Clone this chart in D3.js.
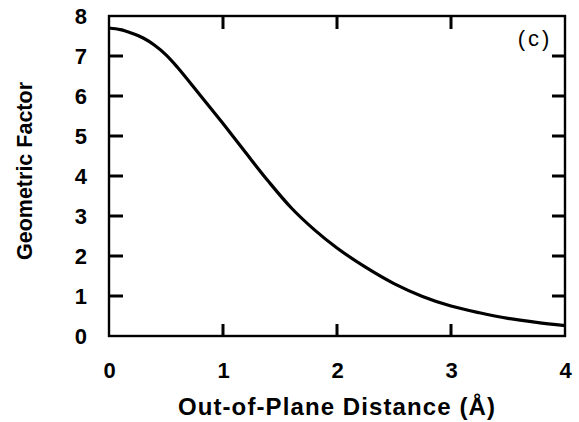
<!DOCTYPE html>
<html>
<head>
<meta charset="utf-8">
<script src="https://cdn.jsdelivr.net/npm/d3@7"></script>
<style>
  html, body { margin: 0; padding: 0; background: #fff; }
  svg { display: block; }
</style>
</head>
<body>
<svg id="chart" width="579" height="422"></svg>
<script>
// ---- data ----
const distance = [0, 0.1, 0.2, 0.3, 0.4, 0.5, 0.6, 0.8, 1.0, 1.2, 1.4, 1.6, 1.8, 2.0, 2.25, 2.5, 2.75, 3.0, 3.25, 3.5, 3.75, 4.0];
const geomFactor = [7.70, 7.66, 7.57, 7.45, 7.27, 7.03, 6.72, 6.02, 5.31, 4.58, 3.86, 3.20, 2.66, 2.20, 1.72, 1.31, 0.99, 0.75, 0.58, 0.44, 0.34, 0.26];
const xTicks = [0, 1, 2, 3, 4];
const yTicks = [0, 1, 2, 3, 4, 5, 6, 7, 8];
const xLabel = "Out-of-Plane Distance (Å)";
const yLabel = "Geometric Factor";
const panelLabel = "(c)";

(function () {
const svg = d3.select("#chart");
const pL = 109, pR = 565, pT = 16, pB = 336;
const x = d3.scaleLinear().domain([0, 4]).range([pL, pR]);
const y = d3.scaleLinear().domain([0, 8]).range([pB, pT]);
const font = "'Liberation Sans', Arial, Helvetica, sans-serif";

// frame
svg.append("rect")
  .attr("x", pL).attr("y", pT).attr("width", pR - pL).attr("height", pB - pT)
  .attr("fill", "none").attr("stroke", "#000").attr("stroke-width", 2.4);

function styleAxis(g) {
  g.select(".domain").remove();
  g.selectAll(".tick line").remove();
  g.selectAll(".tick text")
    .attr("fill", "#000")
    .attr("font-family", font).attr("font-weight", "bold").attr("font-size", 22);
}

// axes for the tick labels
svg.append("g").attr("transform", `translate(0,${pB})`)
  .call(d3.axisBottom(x).tickValues(xTicks).tickFormat(d3.format("d")).tickSize(0).tickPadding(26))
  .call(styleAxis);
svg.append("g").attr("transform", `translate(${pL},0)`)
  .call(d3.axisLeft(y).tickValues(yTicks).tickFormat(d3.format("d")).tickSize(0).tickPadding(22))
  .call(styleAxis);

// inner tick marks on all four sides, positioned by the scales
const innerX = xTicks.filter(d => d > 0 && d < 4);
const innerY = yTicks.filter(d => d > 0 && d < 8);
const tw = 3;
const ticks = svg.append("g").attr("fill", "#000");
ticks.selectAll("rect.xb").data(innerX).join("rect").attr("class", "xb")
  .attr("x", d => x(d) - tw / 2).attr("y", pB - 12).attr("width", tw).attr("height", 12);
ticks.selectAll("rect.xt").data(innerX).join("rect").attr("class", "xt")
  .attr("x", d => x(d) - tw / 2).attr("y", pT).attr("width", tw).attr("height", 13);
ticks.selectAll("rect.yl").data(innerY).join("rect").attr("class", "yl")
  .attr("x", pL).attr("y", d => y(d) - tw / 2).attr("width", 14).attr("height", tw);
ticks.selectAll("rect.yr").data(innerY).join("rect").attr("class", "yr")
  .attr("x", pR - 13).attr("y", d => y(d) - tw / 2).attr("width", 13).attr("height", tw);

// axis titles
svg.append("text")
  .attr("x", (pL + pR) / 2).attr("y", 415)
  .attr("text-anchor", "middle")
  .attr("font-family", font).attr("font-weight", "bold").attr("font-size", 24)
  .attr("letter-spacing", 1.1)
  .text(xLabel);
svg.append("text")
  .attr("transform", `translate(32, 171) rotate(-90)`)
  .attr("text-anchor", "middle")
  .attr("font-family", font).attr("font-weight", "bold").attr("font-size", 21.5)
  .text(yLabel);

// panel label
svg.append("text")
  .attr("x", 535).attr("y", 46)
  .attr("text-anchor", "middle")
  .attr("font-family", font).attr("font-size", 22)
  .attr("letter-spacing", 3)
  .text(panelLabel);

// curve
const pts = distance.map((d, i) => [d, geomFactor[i]]);
svg.append("path")
  .datum(pts)
  .attr("fill", "none").attr("stroke", "#000").attr("stroke-width", 3.2)
  .attr("stroke-linejoin", "round")
  .attr("d", d3.line().x(d => x(d[0])).y(d => y(d[1])).curve(d3.curveCatmullRom.alpha(0.5)));
})();
</script>
</body>
</html>
